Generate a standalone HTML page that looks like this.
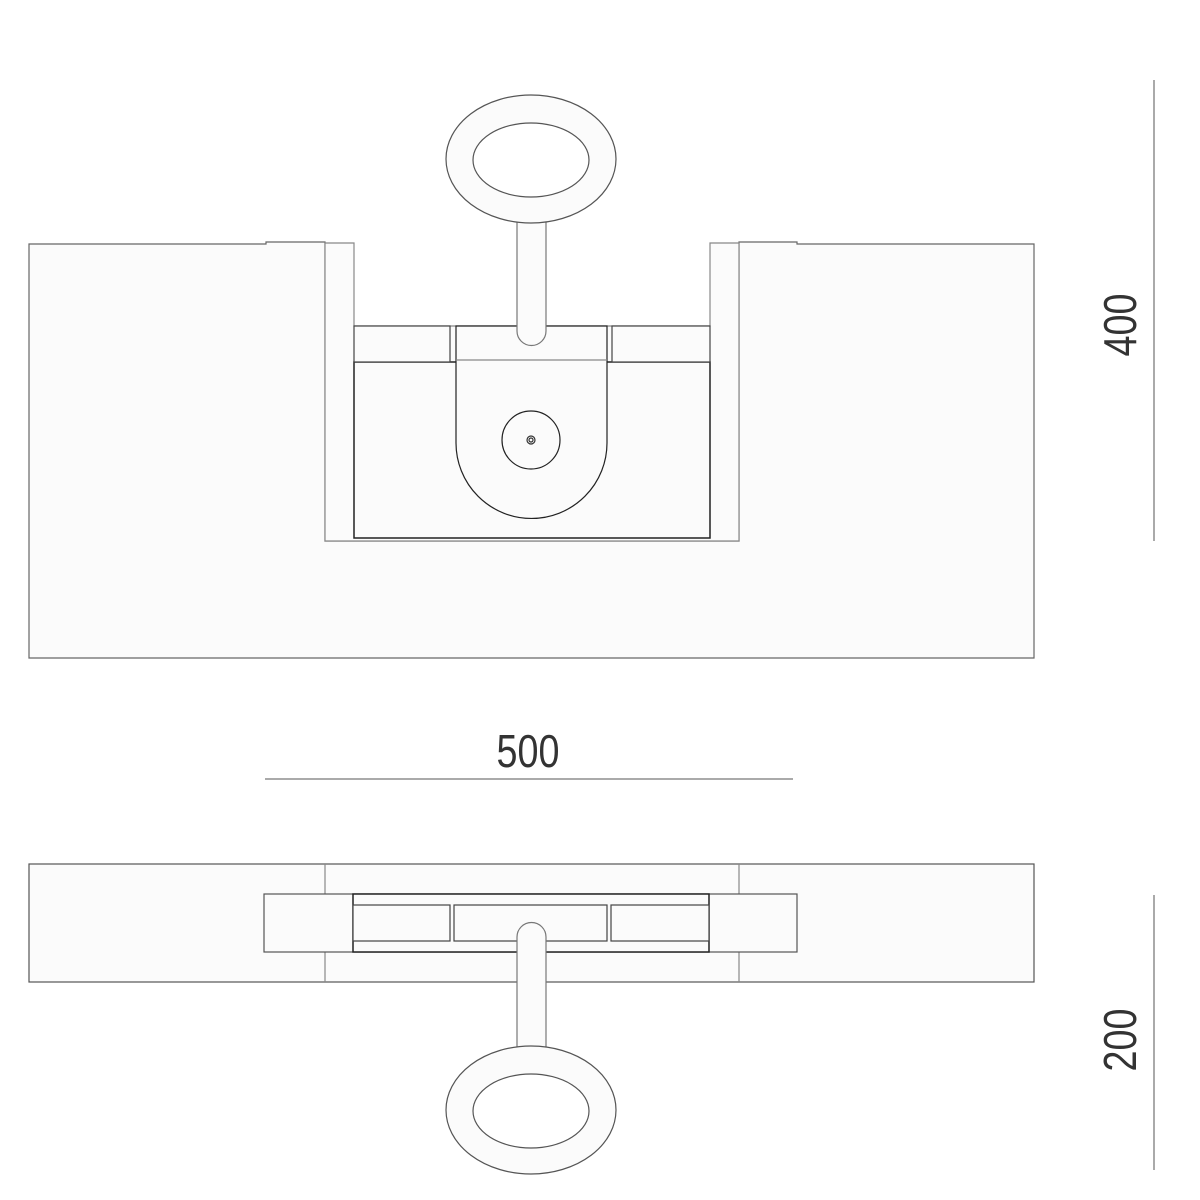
<!DOCTYPE html>
<html><head><style>body{margin:0;background:#fff}svg{display:block}</style></head><body>
<svg width="1200" height="1200" viewBox="0 0 1200 1200" xmlns="http://www.w3.org/2000/svg">
<g fill="#fbfbfb" stroke="#444" stroke-width="1.2">
<!-- top view -->
<path d="M29,244 H266 V242 H325 V244 H325 V541 H739 V244 H739 V242 H797 V244 H1034 V658 H29 Z" stroke="#666"/>
<path d="M325,541 V243 H354 V326 H710 V243 H739 V541 Z" stroke="#888"/>
<rect x="354" y="362" width="356" height="176" stroke="#222" stroke-width="1.5"/>
<rect x="354" y="326" width="96" height="36"/>
<rect x="612" y="326" width="98" height="36"/>
<path d="M456,326 H607 V443 A75.5,75.5 0 0 1 456,443 Z" stroke="#222"/>
<line x1="456" y1="360" x2="607" y2="360" stroke="#888"/>
<circle cx="531" cy="440" r="29" stroke="#222"/>
<circle cx="531" cy="440" r="4" stroke="#333"/>
<circle cx="531" cy="440" r="2" stroke="#333"/>
<path d="M517,222 V331 A14.5,14.5 0 0 0 546,331 V222" stroke="#777"/>
<path fill-rule="evenodd" d="M446,159 A85,64 0 1 0 616,159 A85,64 0 1 0 446,159 Z M473,160 A58,37 0 1 1 589,160 A58,37 0 1 1 473,160 Z" stroke="#555"/>
<!-- bottom view -->
<rect x="29" y="864" width="1005" height="118" stroke="#555"/>
<line x1="325" y1="864" x2="325" y2="894" stroke="#888"/>
<line x1="325" y1="952" x2="325" y2="982" stroke="#888"/>
<line x1="739" y1="864" x2="739" y2="894" stroke="#888"/>
<line x1="739" y1="952" x2="739" y2="982" stroke="#888"/>
<rect x="264" y="894" width="533" height="58" stroke="#555"/>
<rect x="353" y="894" width="356" height="58" stroke="#222" stroke-width="1.5"/>
<rect x="353" y="905" width="97" height="36"/>
<rect x="454" y="905" width="153" height="36"/>
<rect x="611" y="905" width="98" height="36"/>
<path d="M517,1050 V937 A14.5,14.5 0 0 1 546,937 V1050" stroke="#777"/>
<path fill-rule="evenodd" d="M446,1110 A85,64 0 1 0 616,1110 A85,64 0 1 0 446,1110 Z M473,1111 A58,37 0 1 1 589,1111 A58,37 0 1 1 473,1111 Z" stroke="#555"/>
</g>
<g stroke="#555" stroke-width="1">
<line x1="1154" y1="80" x2="1154" y2="541"/>
<line x1="265" y1="779" x2="793" y2="779"/>
<line x1="1154" y1="895" x2="1154" y2="1170"/>
</g>
<g font-family="Liberation Sans, sans-serif" font-size="46" fill="#333">
<text transform="translate(528,767) scale(0.82,1)" text-anchor="middle">500</text>
<text transform="translate(1136,325) rotate(-90) scale(0.82,1)" text-anchor="middle">400</text>
<text transform="translate(1136,1040) rotate(-90) scale(0.82,1)" text-anchor="middle">200</text>
</g>
</svg>
</body></html>
